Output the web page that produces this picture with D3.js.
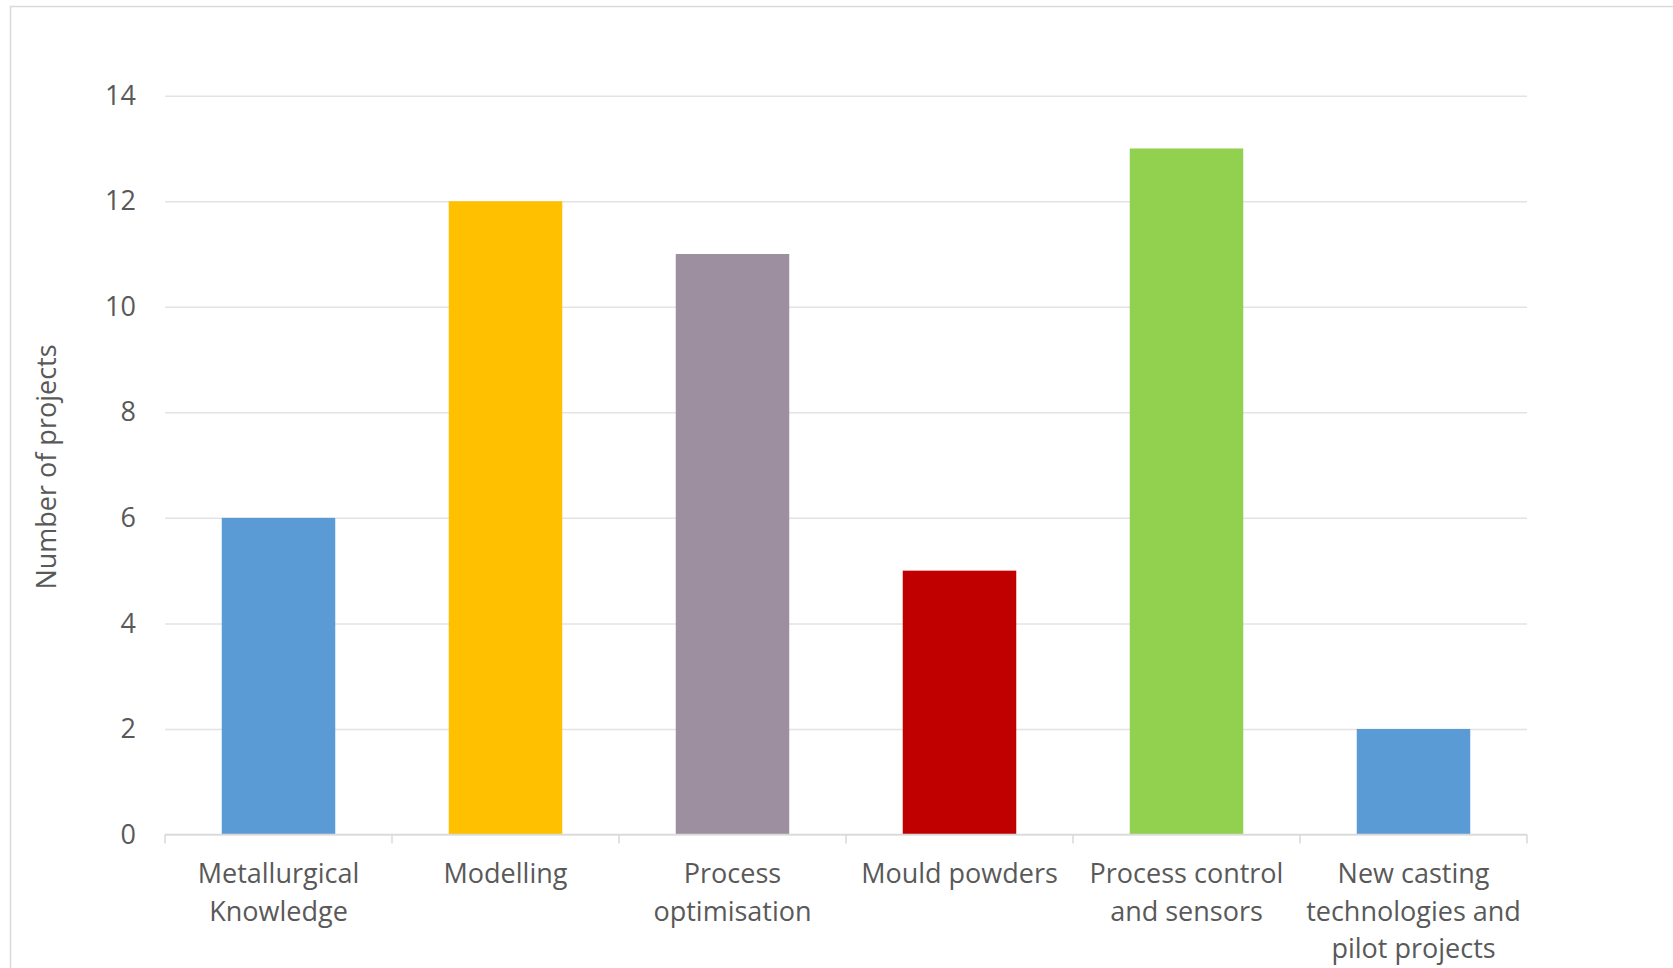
<!DOCTYPE html>
<html lang="en">
	<head>
		<meta charset="utf-8">
		<title>Number of projects</title>
		<script type="text/javascript" src="https://d3js.org/d3.v7.min.js"></script>
		<style type="text/css">
			body { margin: 0; background: #fff; }
			text { font-family: "Open Sans", sans-serif; fill: #595959; }
		</style>
	</head>
	<body>
		<script type="text/javascript">

			var w = 1673;
			var h = 968;

			// data
			var categories = [
				["Metallurgical", "Knowledge"],
				["Modelling"],
				["Process", "optimisation"],
				["Mould powders"],
				["Process control", "and sensors"],
				["New casting", "technologies and", "pilot projects"]
			];
			var projects = [6, 12, 11, 5, 13, 2];
			var barColors = ["#5b9bd5", "#ffc000", "#9e8fa0", "#c00000", "#92d050", "#5b9bd5"];
			var yTicks = [0, 2, 4, 6, 8, 10, 12, 14];

			// plot area edges (window.top is reserved, so other names)
			var plotLeft = 165, plotRight = 1527, plotTop = 95.7, plotBottom = 834.5;
			var fontSize = "27px";

			var svg = d3.select("body")
						.append("svg")
						.attr("width", w)
						.attr("height", h);

			// chart frame
			svg.append("rect")
				.attr("x", 10.5)
				.attr("y", 6.5)
				.attr("width", w)
				.attr("height", h)
				.style("fill", "none")
				.style("stroke", "#d9d9d9")
				.style("stroke-width", 1.5);

			var x = d3.scaleBand()
						.domain(d3.range(categories.length))
						.range([plotLeft, plotRight])
						.paddingInner(0.5)
						.paddingOuter(0.25);

			var y = d3.scaleLinear()
						.domain([0, 14])
						.range([plotBottom, plotTop]);

			// gridlines + y labels
			var yAxis = d3.axisLeft(y)
							.tickValues(yTicks)
							.tickSize(-(plotRight - plotLeft))
							.tickPadding(29);

			var gy = svg.append("g")
						.attr("transform", "translate(" + plotLeft + ",0)")
						.call(yAxis);
			gy.select(".domain").remove();
			gy.selectAll("line").style("stroke", "#e3e3e3").style("stroke-width", 1.5);
			gy.selectAll("text")
				.style("font-size", fontSize)
				.style("font-family", "'Open Sans', sans-serif")
				.attr("fill", "#595959");

			// bars
			svg.selectAll("rect.bar")
				.data(projects)
				.enter()
				.append("rect")
				.attr("class", "bar")
				.attr("x", function(d, i){ return x(i); })
				.attr("y", function(d){ return y(d); })
				.attr("width", x.bandwidth())
				.attr("height", function(d){ return y(0) - y(d); })
				.style("fill", function(d, i){ return barColors[i]; });

			// x axis line and ticks between categories
			var step = x.step();
			svg.append("line")
				.attr("x1", plotLeft).attr("x2", plotRight)
				.attr("y1", plotBottom).attr("y2", plotBottom)
				.style("stroke", "#d9d9d9")
				.style("stroke-width", 1.5);

			svg.selectAll("line.xtick")
				.data(d3.range(categories.length + 1))
				.enter()
				.append("line")
				.attr("class", "xtick")
				.attr("x1", function(i){ return plotLeft + i * step; })
				.attr("x2", function(i){ return plotLeft + i * step; })
				.attr("y1", plotBottom)
				.attr("y2", plotBottom + 9)
				.style("stroke", "#d9d9d9")
				.style("stroke-width", 1.5);

			// category labels
			var labels = svg.selectAll("text.cat")
							.data(categories)
							.enter()
							.append("text")
							.attr("class", "cat")
							.attr("text-anchor", "middle")
							.style("font-size", fontSize)
							.attr("transform", function(d, i){
								return "translate(" + (x(i) + x.bandwidth() / 2) + "," + 883 + ")";
							});

			labels.selectAll("tspan")
				.data(function(d){ return d; })
				.enter()
				.append("tspan")
				.attr("x", 0)
				.attr("y", function(d, j){ return j * 37.5; })
				.text(function(d){ return d; });

			// y axis title
			svg.append("text")
				.attr("transform", "translate(56,467) rotate(-90)")
				.attr("text-anchor", "middle")
				.style("font-size", fontSize)
				.text("Number of projects");

		</script>
	</body>
</html>
